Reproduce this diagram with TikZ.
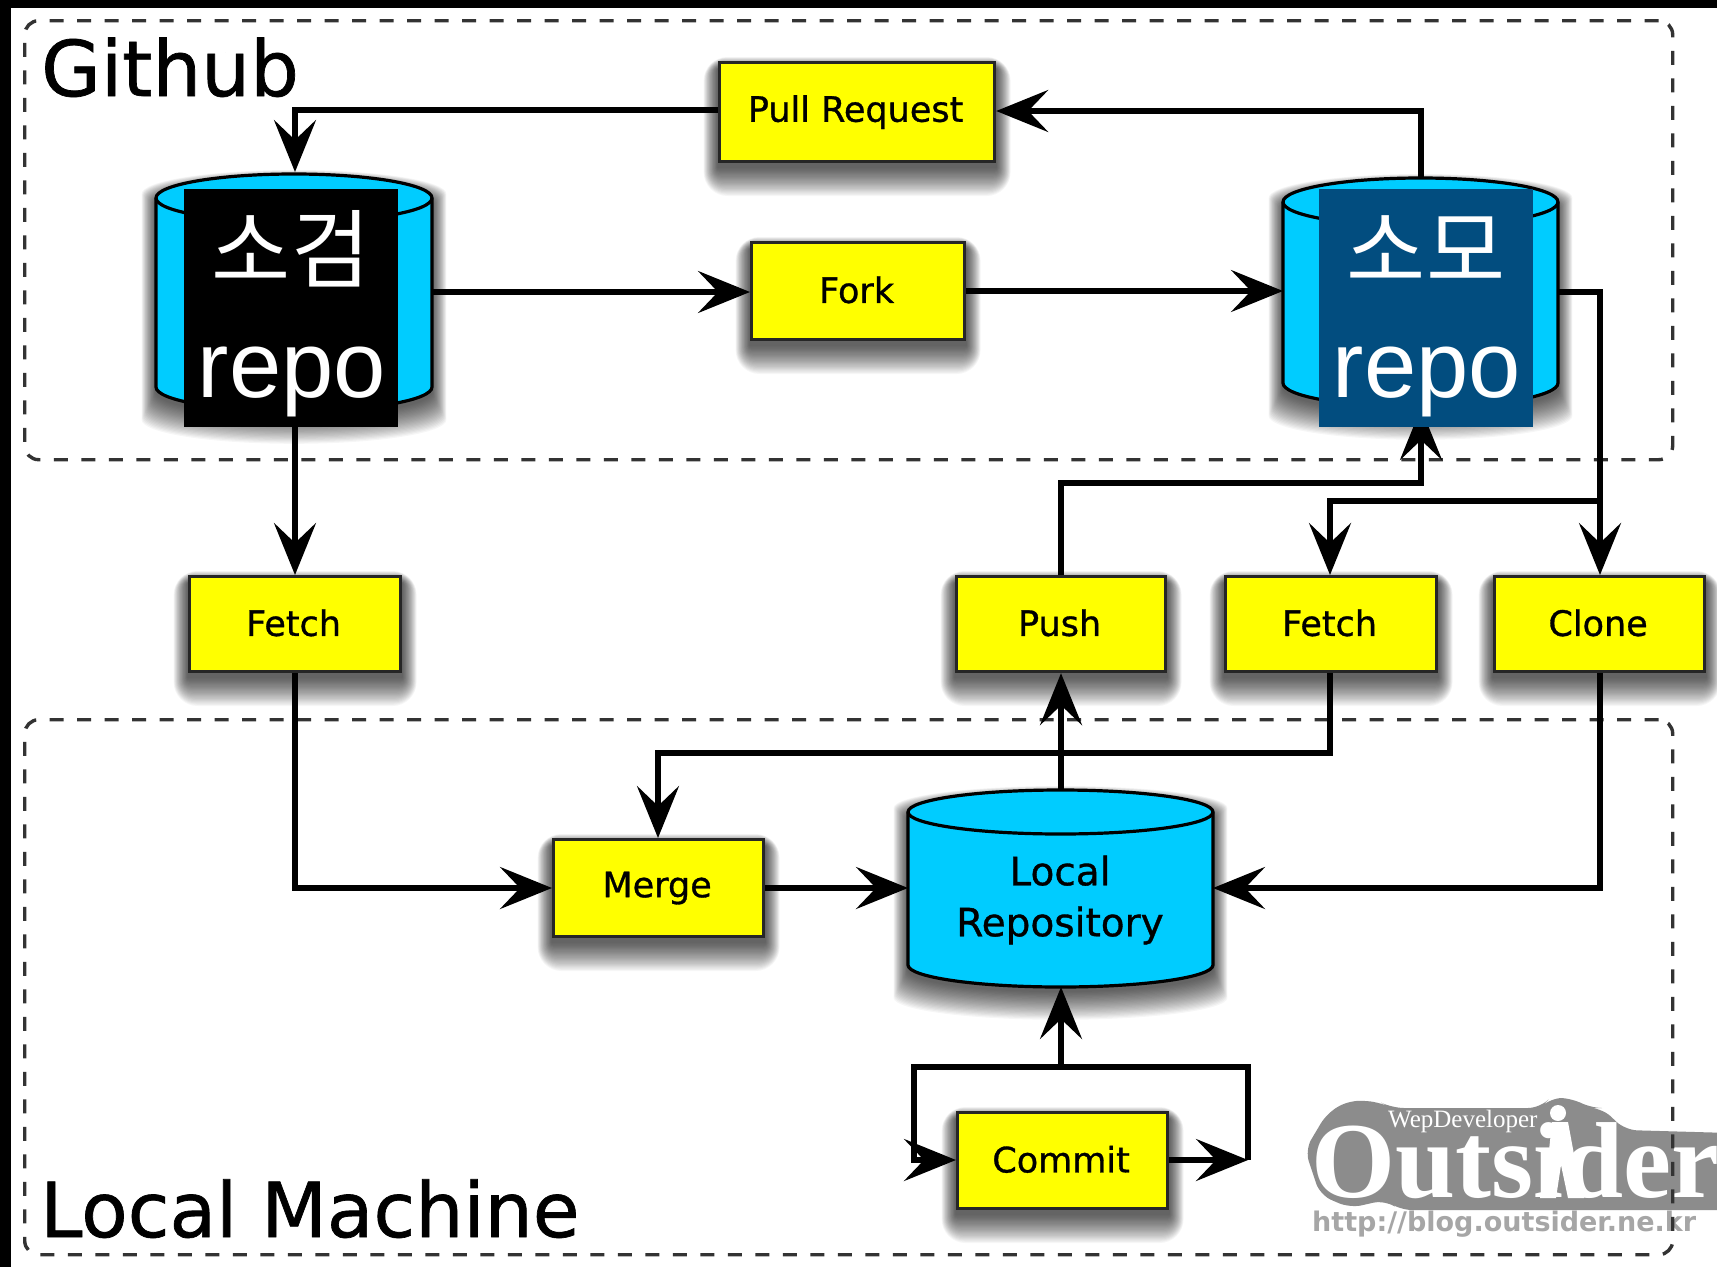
\documentclass[tikz,border=0pt]{standalone}
\usepackage{fontspec}
\setmainfont{DejaVu Sans}
\newfontfamily\boldish[FakeBold=0.9]{DejaVu Sans}
\newfontfamily\krfont{Noto Sans CJK KR}
\newfontfamily\helvfont{Liberation Sans}
\newfontfamily\logofont{Liberation Serif}
\usetikzlibrary{arrows.meta,backgrounds,calc}
\definecolor{cyl}{HTML}{00CCFF}
\definecolor{boxy}{HTML}{FFFF00}
\definecolor{blueover}{HTML}{024D7F}
\definecolor{logogrey}{HTML}{8C8C8C}
\tikzset{
  x=1pt,y=-1pt,
  flow/.style={line width=5.5pt,black,-{Stealth[length=52pt,width=42pt,inset=20pt]}},
  region/.style={draw=black!80,line width=3.4pt,dash pattern=on 14pt off 13.5pt,rounded corners=14pt},
  stepbox/.style={draw=black!85,line width=3.2pt,fill=boxy,inner sep=0pt,font=\boldish\fontsize{35}{35}\selectfont,text=black},
  cover/.style={inner sep=0pt,minimum width=214pt,minimum height=238pt},
  bigtext/.style={anchor=base west,text=black,inner sep=0pt},
  covertext/.style={text=white,inner sep=0pt,anchor=base}
}
\newcommand{\boxat}[6]{\node[stepbox,minimum width=#4pt-#2pt,minimum height=#5pt-#3pt,anchor=north west] (#1) at (#2-1,#3-1) {\hspace*{-3pt}\raisebox{3pt}{#6}};}
% left, right, y of top ellipse centre, y of side bottom, ellipse radius, style
\newcommand{\drumfill}[6]{%
  \pgfmathsetmacro{\drx}{(#2-#1)/2}%
  \path[#6] (#1,#3) arc[start angle=180,end angle=0,x radius=\drx pt,y radius=#5 pt] -- (#2,#4)
    arc[start angle=0,end angle=-180,x radius=\drx pt,y radius=#5 pt] -- cycle;}
\newcommand{\drumat}[6]{%
  \pgfmathsetmacro{\drw}{#3-#2}\pgfmathsetmacro{\drh}{#5+2*#6-#4}%
  \drumfill{#2}{#3}{#4}{#5}{#6}{fill=cyl,draw=black,line width=3.2pt}
  \pgfmathsetmacro{\drx}{(#3-#2)/2}%
  \draw[black,line width=3.2pt] (#2,#4) arc[start angle=180,end angle=360,x radius=\drx pt,y radius=#6 pt];
  \node[minimum width=\drw pt,minimum height=\drh pt,inner sep=0pt,outer sep=0pt] (#1) at ({(#2+#3)/2},{(#4-#6+#5+#6)/2}) {};}
\newcommand{\drumshadow}[5]{%
  \foreach \d in {1,...,24}{%
    \pgfmathsetmacro{\sxa}{#1-0.6*\d}\pgfmathsetmacro{\sxb}{#2+0.6*\d}%
    \pgfmathsetmacro{\sya}{#3+8-0.5*\d}\pgfmathsetmacro{\syb}{#4+4+1.2*\d}%
    \drumfill{\sxa}{\sxb}{\sya}{\syb}{#5}{fill=black,opacity=0.035}
  }}
\begin{document}
\begin{tikzpicture}
\useasboundingbox (0,0) rectangle (1717,1267);
\clip (0,0) rectangle (1717,1267);
\begin{scope}[on background layer]
\fill[white] (0,0) rectangle (1717,1267);
\end{scope}

% watermark
\fill[logogrey,rounded corners=12pt] (1305,1150) -- (1327,1113) -- (1350,1100) -- (1380,1102) -- (1392,1108)
  -- (1540,1108) -- (1550,1098) -- (1572,1098) -- (1590,1108) -- (1602,1108) -- (1625,1130) -- (1730,1133)
  -- (1730,1210) -- (1400,1210) -- (1385,1200) -- (1350,1208) -- (1320,1195) -- cycle;
\node[anchor=base west,inner sep=0pt,text=white,font=\logofont\bfseries\fontsize{108}{108}\selectfont] (logo) at (1311,1197) {Outsider};
\node[anchor=base west,inner sep=0pt,text=white,font=\logofont\fontsize{25}{25}\selectfont] (logotop) at (1388,1127) {WepDeveloper};
\fill[white] (1558,1113) circle (8pt);
\fill[white] (1552,1122) -- (1568,1122) -- (1575,1160) -- (1584,1198) -- (1568,1198) -- (1561,1165) -- (1556,1198) -- (1540,1198) -- (1548,1160) -- cycle;
\node[anchor=base west,inner sep=0pt,text=black!35,font=\bfseries\fontsize{27}{27}\selectfont] (logourl) at (1312,1231) {http://blog.outsider.ne.kr};

% regions
\node[region,minimum width=1648pt,minimum height=439pt,anchor=north west] (github) at (23,19) {};
\node[region,minimum width=1648pt,minimum height=535pt,anchor=north west] (local) at (23,718) {};
\node[bigtext,font=\boldish\fontsize{77}{77}\selectfont] (lblgit) at (41,96) {Github};
\node[bigtext,font=\boldish\fontsize{76}{76}\selectfont] (lbllocal) at (40,1237) {Local Machine};

% boxes
\boxat{pr}{719}{62}{994}{161}{Pull Request}
\boxat{fork}{751}{242}{964}{339}{Fork}
\boxat{fetcha}{189}{576}{400}{671}{Fetch}
\boxat{push}{956}{576}{1165}{671}{Push}
\boxat{fetchb}{1225}{576}{1436}{671}{Fetch}
\boxat{clone}{1494}{576}{1704}{671}{Clone}
\boxat{merge}{553}{839}{763}{936}{Merge}
\boxat{commit}{957}{1112}{1167}{1208}{Commit}

% drums
\drumat{repa}{156}{432}{198}{387}{24}
\drumat{repb}{1283}{1558}{202}{383}{24}
\drumat{repl}{908}{1213}{812}{965}{22}
\node[inner sep=0pt,font=\boldish\fontsize{39}{51}\selectfont,align=center,text=black] (repltext) at (1060,900) {Local\\Repository};

% soft shadows
\begin{scope}[on background layer]
\foreach \n in {pr,fork,fetcha,push,fetchb,clone,merge,commit}{
  \foreach \d in {1,...,24}{
    \fill[black,opacity=0.035,rounded corners=\d pt] ($(\n.north west)+(-0.6*\d,8-0.5*\d)$) rectangle ($(\n.south east)+(0.6*\d,4+1.2*\d)$);
  }
}
\drumshadow{156}{432}{198}{387}{24}
\drumshadow{1283}{1558}{202}{383}{24}
\drumshadow{908}{1213}{812}{965}{22}
\end{scope}

% black bands
\fill[black] (0,0) rectangle (1717,8);
\fill[black] (0,0) rectangle (11,1267);

% connectors
\coordinate (prin) at (295,110);
\coordinate (prb) at (295,172);
\draw[flow] (pr.west |- prin) -- (prin) -- (prb);
\coordinate (rbtop) at (1421,178);
\coordinate (rbtr) at (1421,111);
\draw[flow] (rbtop) -- (rbtr) -- (pr.east |- rbtr);
\coordinate (ya) at (0,292);
\coordinate (yb) at (0,291);
\draw[flow] (repa.east |- ya) -- (fork.west |- ya);
\draw[flow] (fork.east |- yb) -- (repb.west |- yb);
\coordinate (rbe) at (repb.east |- ya);
\coordinate (clt) at (1600,292);
\draw[flow] (rbe) -- (clt) -- (clone.north -| clt);
\coordinate (junc) at (1600,501);
\coordinate (jleft) at (1330,501);
\draw[flow] (junc) -- (jleft) -- (fetchb.north -| jleft);
\coordinate (pu) at (1061,483);
\coordinate (pur) at (1421,483);
\coordinate (pue) at (1421,408);
\draw[flow] (push.north -| pu) -- (pu) -- (pur) -- (pue);
\coordinate (fas) at (295,400);
\draw[flow] (fas) -- (fetcha.north -| fas);
\coordinate (fa) at (295,888);
\draw[flow] (fetcha.south -| fa) -- (fa) -- (merge.west |- fa);
\coordinate (fb) at (1330,753);
\coordinate (fc) at (658,753);
\draw[flow] (fetchb.south -| fb) -- (fb) -- (fc) -- (merge.north -| fc);
\draw[flow] (merge.east |- fa) -- (repl.west |- fa);
\coordinate (lrt) at (1061,790);
\draw[flow] (lrt) -- (push.south -| lrt);
\coordinate (cla) at (1600,888);
\draw[flow] (clone.south -| cla) -- (cla) -- (repl.east |- cla);
\coordinate (lp1) at (1248,1160);
\coordinate (lp2) at (1248,1067);
\coordinate (lp3) at (914,1067);
\coordinate (lp4) at (914,1160);
\coordinate (lp5) at (1061,1067);
\draw[flow] (commit.east |- lp1) -- (lp1);
\draw[flow] (lp1) -- (lp2) -- (lp3) -- (lp4) -- (commit.west |- lp4);
\draw[flow] (lp5) -- (repl.south -| lp5);

% covers
\node[cover,fill=black,anchor=north west] (coa) at (184,189) {};
\node[cover,fill=blueover,anchor=north west] (cob) at (1319,189) {};
\node[covertext,font=\krfont\fontsize{86}{86}\selectfont] (kra) at (291,281) {소검};
\node[covertext,font=\helvfont\fontsize{94}{94}\selectfont] (ra) at (292,397) {repo};
\node[covertext,font=\krfont\fontsize{86}{86}\selectfont] (krb) at (1426,281) {소모};
\node[covertext,font=\helvfont\fontsize{94}{94}\selectfont] (rb) at (1427,397) {repo};
\end{tikzpicture}
\end{document}
